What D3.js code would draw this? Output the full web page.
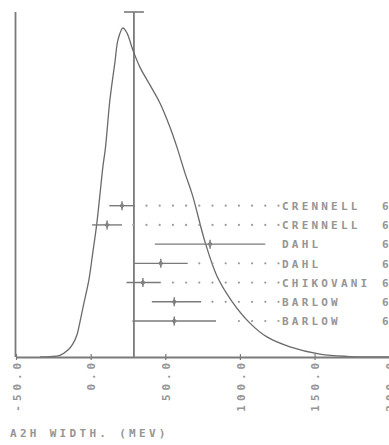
<!DOCTYPE html>
<html>
<head>
<meta charset="utf-8">
<script src="https://cdn.jsdelivr.net/npm/d3@7"></script>
<style>
  html, body { margin: 0; padding: 0; background: #fff; }
  svg { display: block; }
  text { font-family: "DejaVu Sans Mono", "Liberation Mono", monospace; fill: #959595; font-weight: bold; }
</style>
</head>
<body>
<svg id="chart" width="389" height="445"></svg>
<script>
// Measurements of the A2 width (MeV), one row each
const experiments = ["CRENNELL", "CRENNELL", "DAHL", "DAHL", "CHIKOVANI", "BARLOW", "BARLOW"];
const years = ["68", "66", "67", "67", "67", "67", "67"];
const widths = [21, 11, 80, 47, 35, 56, 56];
const errMinus = [8.5, 10, 37, 18, 11, 15, 28];
const errPlus = [8.5, 10, 37, 18, 12, 18, 28];
const weightedMean = 29;

// Ideogram curve (relative density versus width)
const curveX = [-34, -27.3, -20.6, -15.2, -11.9, -9.2, -6.9, -4.8, -1.2, 1.5, 4.0, 6.2, 8.2, 9.9, 12.9, 16.3, 18.3, 21.6,
                24.3, 28.3, 33.0, 39.7, 46.4, 53.1, 57.8, 63.2, 68.2, 76.6, 84.9, 95.0, 106.7, 118.1, 133.5, 153.6, 171.7, 200];
const curveY = [0, 0.001, 0.005, 0.021, 0.040, 0.067, 0.112, 0.158, 0.234, 0.319, 0.401, 0.492, 0.578, 0.635, 0.781, 0.897, 0.964, 1.0,
                0.985, 0.933, 0.881, 0.827, 0.772, 0.699, 0.638, 0.559, 0.492, 0.350, 0.243, 0.167, 0.103, 0.061, 0.031, 0.009, 0.002, 0];

// Axis ticks and labels
const xTicks = [-50, 0, 50, 100, 150, 200];
const tickLabels = ["-50.0", "0.0", "50.0", "100.0", "150.0", "200.0"];
const axisTitle = "A2H WIDTH. (MEV)";

const svg = d3.select("#chart");
svg.append("rect").attr("width", 389).attr("height", 445).attr("fill", "#fff");

const baseY = 357, topY = 12;
const x = d3.scaleLinear().domain([-50, 200]).range([16, 389.2]);
const y = d3.scaleLinear().domain([0, 1]).range([baseY, 28]);
const rowY = d3.scalePoint().domain(d3.range(experiments.length)).range([205.7, 321]);

const lineColor = "#6a6a6a";
const axisColor = "#7a7a7a";

// Left frame line
svg.append("line")
  .attr("x1", x(-50) - 0.5).attr("x2", x(-50) - 0.5)
  .attr("y1", topY).attr("y2", baseY)
  .attr("stroke", axisColor).attr("stroke-width", 1.8);

// Weighted mean line with its cap
svg.append("line")
  .attr("x1", x(weightedMean)).attr("x2", x(weightedMean))
  .attr("y1", topY).attr("y2", baseY)
  .attr("stroke", axisColor).attr("stroke-width", 1.8);
svg.append("line")
  .attr("x1", x(weightedMean) - 10).attr("x2", x(weightedMean) + 10)
  .attr("y1", topY).attr("y2", topY)
  .attr("stroke", axisColor).attr("stroke-width", 1.6);

// Ideogram curve
const pts = curveX.map((v, i) => [v, curveY[i]]);
svg.append("path")
  .datum(pts)
  .attr("fill", "none")
  .attr("stroke", lineColor)
  .attr("stroke-width", 1.3)
  .attr("d", d3.line().x(d => x(d[0])).y(d => y(d[1])).curve(d3.curveCatmullRom.alpha(0.5)));

// Bottom axis
const axis = d3.axisBottom(x)
  .tickValues(xTicks)
  .tickFormat((d, i) => tickLabels[i])
  .tickSizeInner(3)
  .tickSizeOuter(0);
const gAxis = svg.append("g").attr("transform", `translate(0,${baseY})`).call(axis);
gAxis.select(".domain").attr("stroke", axisColor).attr("stroke-width", 1.8);
gAxis.selectAll(".tick line").attr("y1", -3).attr("y2", 3).attr("stroke", axisColor).attr("stroke-width", 1.2);
gAxis.selectAll(".tick text")
  .attr("transform", "rotate(-90)")
  .attr("x", -2)
  .attr("y", 0)
  .attr("dy", "0.38em")
  .attr("text-anchor", "end")
  .style("font-size", "11px")
  .style("letter-spacing", "3.9px")
  .style("font-family", null)
  .attr("font-family", null)
  .attr("fill", "#959595");

// Error bars with centre markers
const labelX = 282, yearX = 382, leaderStep = 13.2;
experiments.forEach((name, i) => {
  const cy = rowY(i);
  const lo = x(widths[i] - errMinus[i]);
  const hi = x(widths[i] + errPlus[i]);
  const cx = x(widths[i]);
  svg.append("line")
    .attr("x1", lo).attr("x2", hi).attr("y1", cy).attr("y2", cy)
    .attr("stroke", axisColor).attr("stroke-width", 1.4);
  svg.append("line")
    .attr("x1", cx).attr("x2", cx).attr("y1", cy - 4.5).attr("y2", cy + 4.5)
    .attr("stroke", axisColor).attr("stroke-width", 1.4);
  svg.append("path")
    .attr("d", `M${cx - 2},${cy} L${cx},${cy - 2.5} L${cx + 2},${cy} L${cx},${cy + 2.5} Z`)
    .attr("fill", "none").attr("stroke", axisColor).attr("stroke-width", 1);

  // Dotted leader from bar end to label
  const lastDot = labelX - 3.5;
  if (hi + 10 <= lastDot - 2 * leaderStep) {
    for (let gx = lastDot; gx >= hi + 10; gx -= leaderStep) {
      svg.append("circle").attr("cx", gx).attr("cy", cy).attr("r", 1.1).attr("fill", "#9a9a9a");
    }
  }

  svg.append("text")
    .attr("x", labelX).attr("y", cy).attr("dy", "0.38em")
    .style("font-size", "11px").style("letter-spacing", "3.2px")
    .text(name);
  svg.append("text")
    .attr("x", yearX).attr("y", cy).attr("dy", "0.38em")
    .style("font-size", "11px").style("letter-spacing", "3.2px")
    .text(years[i]);
});

// Axis title
svg.append("text")
  .attr("x", 10).attr("y", 437)
  .style("font-size", "11px").style("letter-spacing", "3.3px")
  .text(axisTitle);
</script>
</body>
</html>
